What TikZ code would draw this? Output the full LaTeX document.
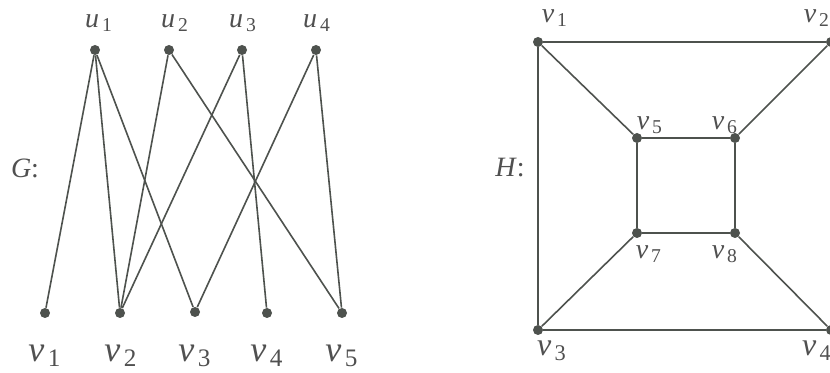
\documentclass[tikz,border=0pt]{standalone}
\usepackage{fontspec}
\setmainfont{Liberation Serif}
\usepackage{tikz}
\usetikzlibrary{positioning}

\definecolor{edgegray}{HTML}{4E524E}
\definecolor{labgray}{HTML}{505050}

\tikzset{
  vert/.style={circle,fill=edgegray,inner sep=0pt,minimum size=5pt},
  edge/.style={draw=edgegray,line width=0.8pt},
  lab/.style={text=labgray,inner sep=0pt,font=\fontsize{14}{16}\selectfont},
  biglab/.style={lab,font=\fontsize{18}{20}\selectfont},
  midlab/.style={lab,font=\fontsize{16}{18}\selectfont}
}
\newcommand{\vl}[2]{\textit{#1}\hspace{0.1em}\textsubscript{#2}}

\begin{document}
\begin{tikzpicture}[x=0.5pt,y=-0.5pt]
			\useasboundingbox (0,0) rectangle (830,373);
			\fill[white] (0,0) rectangle (830,373);
			% Vertices of G
			\node[vert] (u1) at (95,50) {};
			\node[vert] (u2) at (169,50) {};
			\node[vert] (u3) at (242,50) {};
			\node[vert] (u4) at (316,50) {};
			\node[vert] (gv1) at (45,313) {};
			\node[vert] (gv2) at (120,313) {};
			\node[vert] (gv3) at (195,312) {};
			\node[vert] (gv4) at (267,313) {};
			\node[vert] (gv5) at (342,313) {};
			% Edges of G
			\draw[edge] (u1) -- (gv1);
			\draw[edge] (u1) -- (gv2);
			\draw[edge] (u1) -- (gv3);
			\draw[edge] (u2) -- (gv2);
			\draw[edge] (u2) -- (gv5);
			\draw[edge] (u3) -- (gv2);
			\draw[edge] (u3) -- (gv4);
			\draw[edge] (u4) -- (gv3);
			\draw[edge] (u4) -- (gv5);
			% Labels of G
			\node[lab] (lu1) at (99,23) {\vl{u}{1}};
			\node[lab] (lu2) at (175,23) {\vl{u}{2}};
			\node[lab] (lu3) at (243,23) {\vl{u}{3}};
			\node[lab] (lu4) at (317,23) {\vl{u}{4}};
			\node[biglab] (lgv1) at (45,356) {\vl{v}{1}};
			\node[biglab] (lgv2) at (121,356) {\vl{v}{2}};
			\node[biglab] (lgv3) at (195,356) {\vl{v}{3}};
			\node[biglab] (lgv4) at (267,356) {\vl{v}{4}};
			\node[biglab] (lgv5) at (342,356) {\vl{v}{5}};
			\node[lab] (lG) at (25,168) {\textit{G}:};
			% Vertices of H
			\node[vert] (h1) at (538,42) {};
			\node[vert] (h2) at (831,42) {};
			\node[vert] (h3) at (538,330) {};
			\node[vert] (h4) at (831,330) {};
			\node[vert] (h5) at (637,138) {};
			\node[vert] (h6) at (735,138) {};
			\node[vert] (h7) at (637,233) {};
			\node[vert] (h8) at (735,233) {};
			% Edges of H
			\draw[edge] (h1) -- (h2);
			\draw[edge] (h1) -- (h3);
			\draw[edge] (h3) -- (h4);
			\draw[edge] (h1) -- (h5);
			\draw[edge] (h2) -- (h6);
			\draw[edge] (h3) -- (h7);
			\draw[edge] (h4) -- (h8);
			\draw[edge] (h5) -- (h6);
			\draw[edge] (h6) -- (h8);
			\draw[edge] (h8) -- (h7);
			\draw[edge] (h7) -- (h5);
			% Labels of H
			\node[lab] (lh1) at (555,18) {\vl{v}{1}};
			\node[lab] (lh2) at (817,18) {\vl{v}{2}};
			\node[lab] (lh5) at (650,125) {\vl{v}{5}};
			\node[lab] (lh6) at (725,125) {\vl{v}{6}};
			\node[lab] (lh7) at (649,254) {\vl{v}{7}};
			\node[lab] (lh8) at (725,254) {\vl{v}{8}};
			\node[midlab] (lh3) at (552,351) {\vl{v}{3}};
			\node[midlab] (lh4) at (817,351) {\vl{v}{4}};
			\node[lab] (lH) at (510,168) {\textit{H}:};
		\end{tikzpicture}
\end{document}
